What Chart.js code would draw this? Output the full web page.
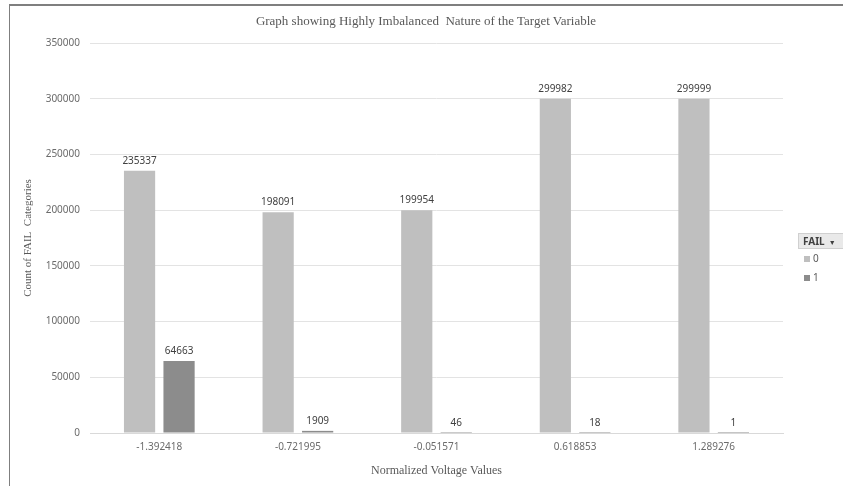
<!DOCTYPE html>
<html>
<head>
<meta charset="utf-8">
<script src="https://cdn.jsdelivr.net/npm/chart.js@4"></script>
<style>
    html, body { margin: 0; padding: 0; background: #fff; }
    #wrap { position: relative; width: 843px; height: 486px; }
    #frame {
        position: absolute; left: 9px; top: 4px; width: 840px; height: 480px;
        border-left: 1px solid #7f7f7f; border-top: 2px solid #7f7f7f;
        border-bottom: 1px solid #d9d9d9;
    }
    #title {
        position: absolute; left: 9px; width: 834px; top: 13px; text-align: center;
        font: 13px "Liberation Serif", "Times New Roman", serif; color: #595959; white-space: pre;
    }
    .legend { position: absolute; left: 798px; top: 233px; font-family: "Noto Sans", sans-serif; }
    .legend-btn {
        width: 40px; height: 14px; background: #e9e9e9; border: 1px solid #d0d0d0;
        font-size: 10px; font-weight: bold; color: #404040; line-height: 14px; padding-left: 4px;
        box-sizing: content-box;
    }
    .legend-btn span { font-size: 7px; margin-left: 4px; }
    .legend-item { font-size: 10px; color: #595959; margin-left: 6px; height: 19px; line-height: 19px; }
    .legend-item i { display: inline-block; width: 6px; height: 6px; margin-right: 3px; vertical-align: 0px; }
</style>
</head>
<body>
<div id="wrap">
    <canvas id="chart" width="843" height="486"></canvas>
    <div id="frame"></div>
    <div id="title"></div>
    <div class="legend">
        <div class="legend-btn">FAIL<span>&#9660;</span></div>
        <div class="legend-item"><i style="background:#bfbfbf"></i>0</div>
        <div class="legend-item"><i style="background:#8c8c8c"></i>1</div>
    </div>
</div>
<script>
const chartTitle = "Graph showing Highly Imbalanced  Nature of the Target Variable";
const categories = ["-1.392418", "-0.721995", "-0.051571", "0.618853", "1.289276"];
const fail0 = [235337, 198091, 199954, 299982, 299999];
const fail1 = [64663, 1909, 46, 18, 1];
const seriesNames = ["0", "1"];

document.getElementById("title").textContent = chartTitle;

const tickFont = { family: "\"Noto Sans\", sans-serif", size: 10 };
const serif = "\"Liberation Serif\", \"Times New Roman\", serif";

// values above each bar
const barLabels = {
    id: "barLabels",
    afterDatasetsDraw(chart) {
        const ctx = chart.ctx;
        ctx.save();
        ctx.font = "10px \"Noto Sans\", sans-serif";
        ctx.fillStyle = "#404040";
        ctx.textAlign = "center";
        ctx.textBaseline = "bottom";
        chart.data.datasets.forEach((ds, i) => {
            chart.getDatasetMeta(i).data.forEach((bar, j) => {
                ctx.fillText(ds.data[j], bar.x, bar.y - 5);
            });
        });
        ctx.restore();
    }
};

new Chart(document.getElementById("chart"), {
    type: "bar",
    data: {
        labels: categories,
        datasets: [
            { label: seriesNames[0], data: fail0, backgroundColor: "#bfbfbf" },
            { label: seriesNames[1], data: fail1, backgroundColor: "#8c8c8c" }
        ]
    },
    options: {
        responsive: false,
        animation: false,
        categoryPercentage: 0.57,
        barPercentage: 0.79,
        layout: { padding: { top: 43, left: 22, right: 60, bottom: 4 } },
        plugins: {
            legend: { display: false },
            tooltip: { enabled: false }
        },
        scales: {
            y: {
                min: 0,
                max: 350000,
                ticks: {
                    stepSize: 50000, color: "#6b6b6b", font: tickFont, padding: 10,
                    callback: v => String(v)
                },
                grid: { color: "#e3e3e3", drawTicks: false },
                border: { display: false },
                title: {
                    display: true,
                    text: "Count of FAIL  Categories",
                    color: "#595959",
                    font: { family: serif, size: 11, weight: "normal" },
                    padding: { top: 0, bottom: 0 }
                },
                afterFit: scale => { scale.width = 68; }
            },
            x: {
                ticks: { color: "#6b6b6b", font: tickFont, padding: 8 },
                grid: { display: false, drawTicks: false },
                border: { color: "#d9d9d9" },
                title: {
                    display: true,
                    text: "Normalized Voltage Values",
                    color: "#595959",
                    font: { family: serif, size: 12, weight: "normal" },
                    padding: { top: 12 }
                },
                afterFit: scale => { scale.height = 49; }
            }
        }
    },
    plugins: [barLabels]
});
</script>
</body>
</html>
